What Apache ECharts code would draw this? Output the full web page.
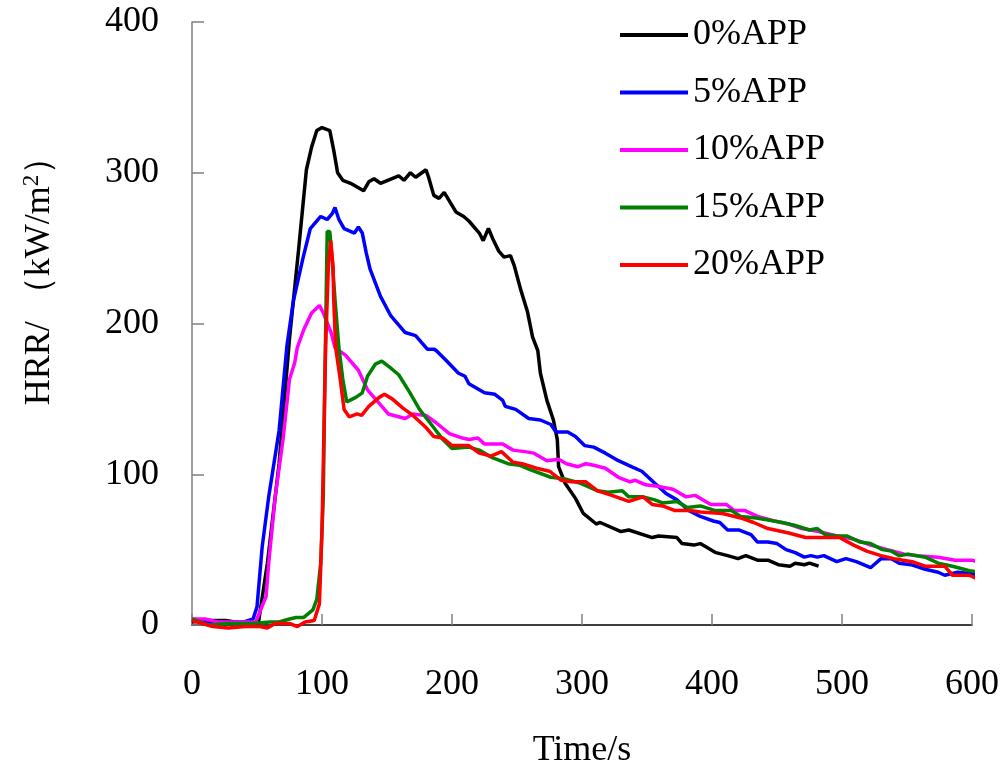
<!DOCTYPE html>
<html>
<head>
<meta charset="utf-8">
<script src="https://cdn.jsdelivr.net/npm/echarts@6/dist/echarts.min.js"></script>
<style>
  html, body { margin: 0; padding: 0; background: #fff; }
  #chart { width: 1008px; height: 768px; }
</style>
</head>
<body>
<div id="chart"></div>
<script>
// HRR curves, [time s, HRR kW/m2]
const seriesNames = ['0%APP', '5%APP', '10%APP', '15%APP', '20%APP'];
const seriesColors = ['#000000', '#0000ff', '#ff00ff', '#008000', '#ff0000'];
const xTicks = [0, 100, 200, 300, 400, 500, 600];
const yTicks = [0, 100, 200, 300, 400];

const app0 = [[0,2],[10,3],[26,3],[40,1],[51,1],[58,41],[67,107],[75,190],[82,249],[88,302],[92,317],[96,328],[100,330],[106,328],[109,315],[112,300],[116,295],[122,293],[132,288],[136,294],[140,296],[145,293],[159,298],[163,295],[168,300],[172,297],[180,302],[182,297],[186,285],[190,283],[194,287],[203,274],[209,271],[213,268],[221,260],[224,255],[228,263],[232,255],[236,248],[240,244],[245,245],[248,238],[253,222],[258,208],[262,191],[266,182],[268,167],[273,149],[278,136],[281,123],[282,105],[287,94],[295,84],[301,74],[311,67],[314,68],[330,62],[336,63],[354,58],[359,59],[373,58],[377,54],[386,53],[391,54],[403,48],[412,46],[420,44],[426,46],[435,43],[443,43],[451,40],[460,39],[464,41],[471,40],[475,41],[482,39]];

const app5 = [[0,3],[10,2],[20,2],[30,2],[40,2],[47,4],[50,12],[54,52],[59,85],[67,129],[73,185],[78,215],[85,242],[91,263],[99,271],[104,269],[108,273],[110,277],[113,269],[117,263],[125,260],[128,264],[131,260],[134,247],[137,236],[145,218],[153,205],[164,194],[172,192],[181,183],[186,183],[188,182],[195,176],[205,167],[210,165],[213,160],[221,156],[225,154],[233,153],[239,149],[241,145],[249,143],[259,137],[268,136],[276,133],[280,128],[289,128],[295,125],[302,119],[309,118],[318,114],[328,109],[338,105],[346,102],[356,94],[365,87],[373,83],[382,76],[391,72],[401,69],[406,68],[412,63],[421,63],[430,60],[435,55],[443,55],[450,54],[457,50],[464,48],[471,45],[476,46],[481,45],[486,46],[496,42],[503,44],[511,42],[522,38],[530,44],[538,44],[544,41],[553,40],[564,37],[574,35],[579,33],[589,35],[600,34],[607,33]];

const app10 = [[0,4],[10,4],[20,2],[30,2],[40,2],[49,2],[57,19],[59,41],[64,85],[70,123],[75,163],[79,174],[81,184],[86,196],[92,207],[98,212],[101,207],[107,194],[110,184],[118,179],[128,169],[135,156],[144,147],[151,140],[164,137],[170,140],[180,139],[188,134],[198,127],[208,124],[213,123],[220,124],[225,120],[239,120],[247,116],[256,115],[263,114],[273,109],[282,110],[288,107],[297,105],[303,107],[309,106],[318,104],[328,98],[337,95],[341,96],[349,93],[358,92],[370,90],[380,85],[387,86],[399,80],[411,80],[417,76],[425,76],[435,72],[448,69],[459,67],[469,64],[482,62],[496,59],[509,57],[522,53],[535,50],[548,47],[558,46],[574,45],[587,43],[600,43],[607,41]];

const app15 = [[0,4],[6,2],[13,0],[28,1],[46,1],[60,2],[67,2],[75,4],[80,5],[86,5],[93,10],[96,17],[99,41],[101,85],[102,151],[104,261],[106,261],[108,240],[110,216],[113,184],[116,163],[119,148],[126,151],[131,154],[135,165],[141,173],[146,175],[152,171],[159,166],[167,155],[175,143],[185,132],[193,123],[200,117],[213,118],[221,116],[231,111],[243,107],[252,106],[260,103],[276,98],[286,97],[299,94],[312,89],[320,88],[331,89],[336,85],[347,85],[356,83],[362,81],[373,82],[381,78],[391,79],[402,76],[415,76],[422,72],[434,71],[441,70],[454,68],[464,66],[475,63],[481,64],[487,60],[496,59],[504,59],[514,55],[522,54],[531,50],[538,49],[544,46],[551,47],[564,45],[574,41],[585,39],[598,36],[607,35]];

const app20 = [[0,3],[8,1],[16,-1],[28,-2],[41,-1],[52,-1],[58,-2],[64,1],[75,1],[81,-1],[87,2],[94,3],[98,14],[100,63],[101.5,129],[102.8,185],[105,240],[106.7,255],[108.5,238],[109,216],[110.5,184],[114,163],[117,143],[121,138],[127,140],[130.5,139],[136,145],[144,151],[148,153],[154,150],[162,144],[170,139],[180,131],[186,125],[193,124],[200,119],[213,119],[221,114],[230,112],[238,115],[247,108],[254,107],[265,104],[275,102],[284,96],[292,95],[303,95],[312,89],[323,86],[336,82],[347,85],[354,80],[362,79],[371,76],[383,76],[391,75],[408,74],[422,71],[432,68],[443,64],[459,61],[472,58],[485,58],[498,58],[509,53],[519,49],[530,46],[540,44],[554,42],[564,39],[572,39],[579,39],[585,33],[598,33],[603,31],[607,31]];

const allData = [app0, app5, app10, app15, app20];
const font = 'Liberation Serif';

const chart = echarts.init(document.getElementById('chart'));

const option = {
  backgroundColor: '#fff',
  animation: false,
  grid: { left: 192, right: 36, top: 22, bottom: 143, outerBoundsMode: 'none', containLabel: false },
  legend: {
    orient: 'vertical',
    left: 615,
    top: 12,
    icon: 'rect',
    itemWidth: 68,
    itemHeight: 4,
    itemGap: 21.5,
    textStyle: { fontFamily: font, fontSize: 36, color: '#000', padding: [0, 0, 0, 0] },
    data: seriesNames
  },
  xAxis: {
    type: 'value',
    min: 0,
    max: 600,
    interval: 100,
    name: 'Time/s',
    nameLocation: 'middle',
    nameGap: 108,
    nameTextStyle: { fontFamily: font, fontSize: 36, color: '#000' },
    axisLine: { lineStyle: { color: '#000', width: 1.5 } },
    axisTick: { inside: true, length: 11, lineStyle: { color: '#808080', width: 1.5 } },
    axisLabel: { fontFamily: font, fontSize: 36, color: '#000', margin: 42 },
    splitLine: { show: false }
  },
  yAxis: {
    type: 'value',
    min: 0,
    max: 400,
    interval: 100,
    axisLine: { show: true, lineStyle: { color: '#808080', width: 1.5 } },
    axisTick: { show: true, inside: true, length: 12, lineStyle: { color: '#808080', width: 1.5 } },
    axisLabel: { fontFamily: font, fontSize: 36, color: '#000', margin: 33 },
    splitLine: { show: false }
  },
  graphic: [{
    type: 'text',
    x: 40,
    y: 272,
    rotation: Math.PI / 2,
    style: {
      text: '{a|HRR/ （kW/m}{s|2}{a|）}',
      align: 'center',
      verticalAlign: 'middle',
      rich: {
        a: { fontFamily: font, fontSize: 36, fill: '#000' },
        s: { fontFamily: font, fontSize: 23, fill: '#000', padding: [0, 0, 17, 0] }
      }
    }
  }],
  series: seriesNames.map((name, i) => ({
    name: name,
    type: 'line',
    data: allData[i],
    symbol: 'none',
    clip: false,
    color: seriesColors[i],
    lineStyle: { color: seriesColors[i], width: 3.5 }
  }))
};

chart.setOption(option);
</script>
</body>
</html>
